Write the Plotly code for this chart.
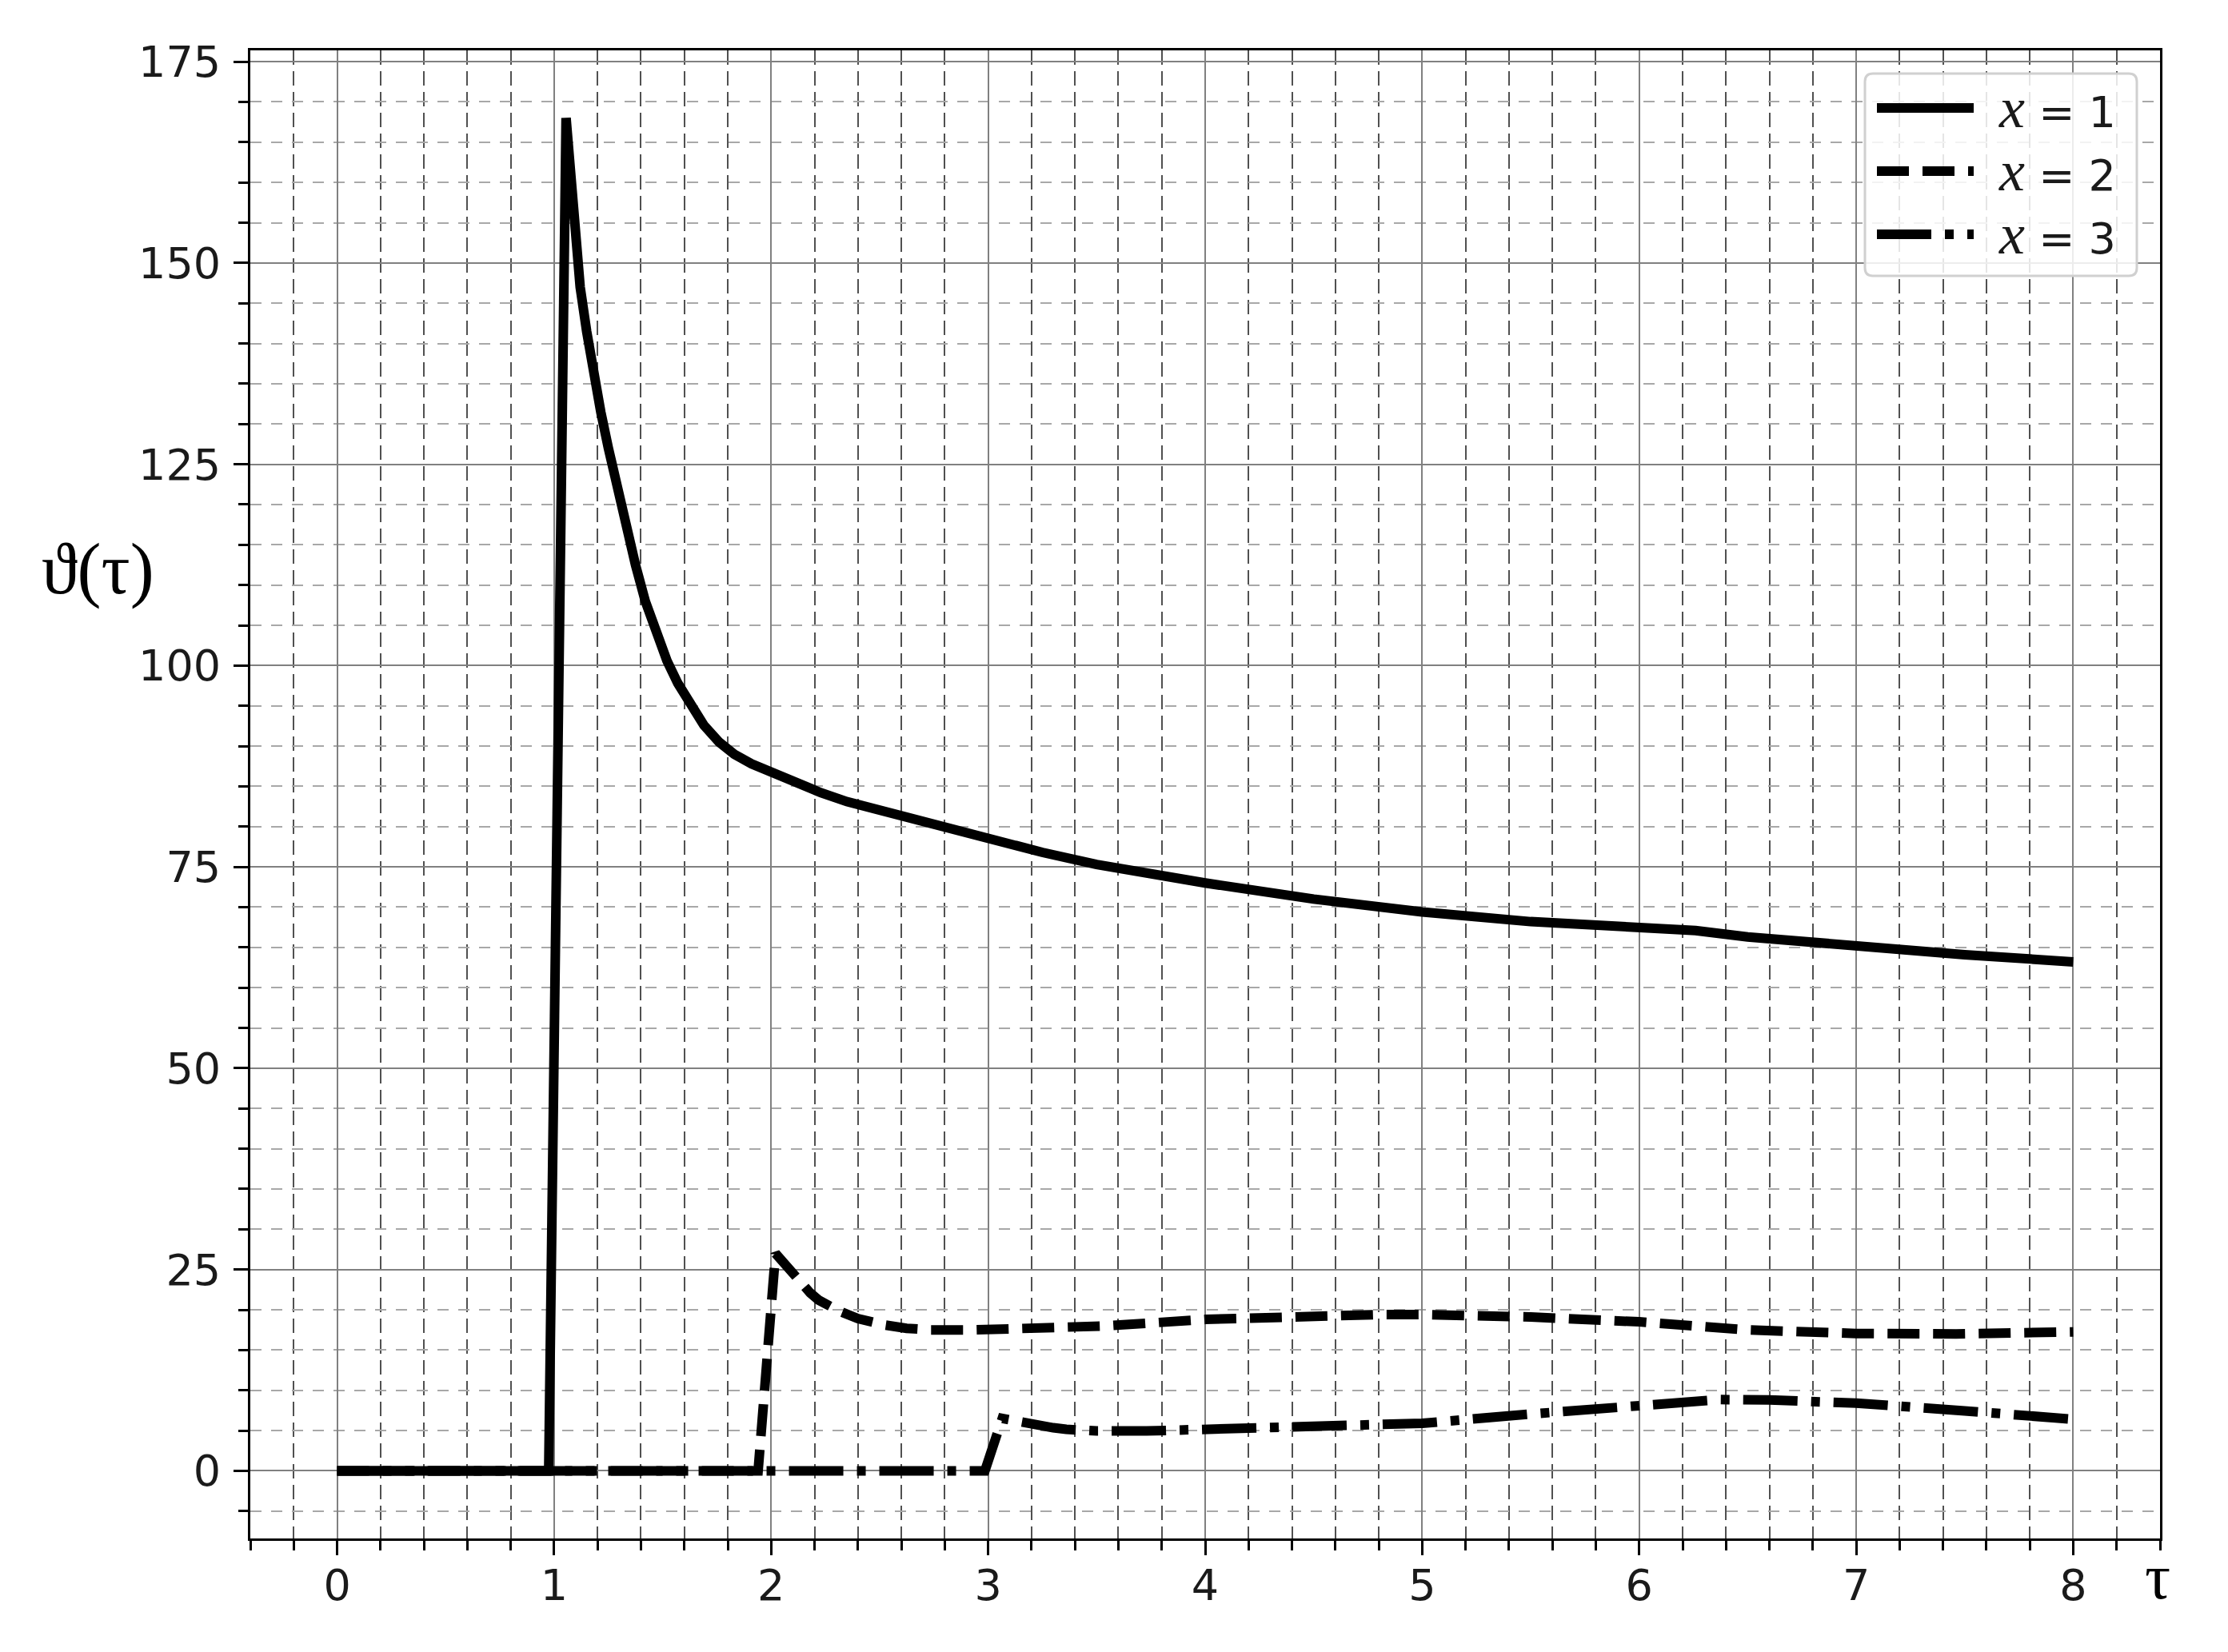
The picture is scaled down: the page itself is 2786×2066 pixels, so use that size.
import plotly.graph_objects as go

# ---------------- data ----------------
tau_x1 = [0, 0.5, 0.975, 1.055, 1.072, 1.095, 1.12, 1.15, 1.18, 1.215, 1.25, 1.29,
          1.33, 1.375, 1.42, 1.47, 1.52, 1.57, 1.63, 1.69, 1.76, 1.83, 1.91, 2.0, 2.1,
          2.23, 2.35, 2.5, 2.75, 3.0, 3.25, 3.5, 3.75, 4.0, 4.5, 5.0, 5.5, 6.0, 6.26,
          6.5, 7.0, 7.5, 8.0]
theta_x1 = [0, 0, 0, 168.0, 162, 154, 147, 141.5, 136.5, 131.5, 127, 122,
            117, 112.5, 108, 104, 100.6, 97.8, 94.9, 92.6, 90.5, 89.0, 87.8, 86.7, 85.5,
            84.2, 83.1, 82.0, 80.3, 78.6, 76.8, 75.3, 74.1, 73.0, 71.0, 69.4, 68.2, 67.5, 67.1,
            66.3, 65.1, 64.1, 63.2]

tau_x2 = [0, 1.94, 2.02, 2.08, 2.133, 2.18, 2.219, 2.27, 2.317, 2.40, 2.47, 2.526,
          2.624, 2.735, 2.94, 3.15, 3.36, 3.545, 4.0, 4.5, 4.79, 5.0, 5.5, 6.0, 6.5,
          7.0, 7.46, 8.0]
theta_x2 = [0, 0, 27.0, 25.0, 23.3, 22.1, 21.2, 20.4, 19.8, 18.9, 18.4, 18.1,
            17.7, 17.5, 17.5, 17.6, 17.75, 18.0, 18.8, 19.3, 19.4, 19.4, 19.1, 18.5, 17.5,
            17.05, 17.0, 17.25]

tau_x3 = [0, 2.985, 3.065, 3.15, 3.24, 3.30, 3.36, 3.43, 3.5, 3.73, 4.0, 4.5, 5.0,
          5.5, 6.0, 6.37, 6.6, 7.0, 7.5, 8.0]
theta_x3 = [0, 0, 6.5, 6.0, 5.6, 5.35, 5.15, 5.02, 4.95, 4.95, 5.1, 5.45, 5.9,
            7.05, 8.2, 8.85, 8.8, 8.4, 7.45, 6.4]

series_labels = ["1", "2", "3"]
x_ticks = [0, 1, 2, 3, 4, 5, 6, 7, 8]
y_ticks = [0, 25, 50, 75, 100, 125, 150, 175]

# ---------------- styling ----------------
OFF = 8                                # browser body margin
W, H = 2786 - 2 * OFF, 2066 - 2 * OFF
L, R, T, B = 313, 2701, 63, 1924      # plot-area edges in window pixels
LW = 12
dash_styles = ["solid", "40px,17px", "68px,17px,11px,17px"]
series = [(tau_x1, theta_x1), (tau_x2, theta_x2), (tau_x3, theta_x3)]

fig = go.Figure()
for (tx, ty), dash, lab in zip(series, dash_styles, series_labels):
    fig.add_trace(go.Scatter(x=tx, y=ty, mode="lines", name=f"x = {lab}",
                             line=dict(color="black", width=LW, dash=dash),
                             showlegend=False))

tick_font = dict(family="DejaVu Sans", size=54, color="#1a1a1a")

fig.update_xaxes(
    range=[-0.4, 8.4], tickvals=x_ticks, ticktext=[str(v) for v in x_ticks],
    ticks="outside", ticklen=18, tickwidth=3, tickcolor="black",
    showline=True, linecolor="black", linewidth=3, mirror=True,
    showgrid=True, gridcolor="#808080", gridwidth=2, zeroline=False,
    tickfont=tick_font, ticklabelstandoff=-9,
    minor=dict(dtick=0.2, tick0=0, ticks="outside", ticklen=12, tickwidth=2.5,
               tickcolor="black", showgrid=True, gridcolor="#505050", gridwidth=1.5,
               griddash="18px,8px"),
)
fig.update_yaxes(
    range=[-8.4, 176.4], tickvals=y_ticks, ticktext=[str(v) for v in y_ticks],
    ticks="outside", ticklen=18, tickwidth=3, tickcolor="black",
    showline=True, linecolor="black", linewidth=3, mirror=True,
    showgrid=True, gridcolor="#808080", gridwidth=2, zeroline=False,
    tickfont=tick_font, ticklabelstandoff=5,
    minor=dict(dtick=5, tick0=0, ticks="outside", ticklen=12, tickwidth=2.5,
               tickcolor="black", showgrid=True, gridcolor="#a8a8a8", gridwidth=2,
               griddash="14px,12px"),
)

def px_x(X):
    return (X - L) / (R - L)

def px_y(Y):
    return (B - Y) / (B - T)

annotations = [
    dict(text="ϑ(τ)", x=px_x(122), y=px_y(712), xref="paper", yref="paper",
         showarrow=False, xanchor="center", yanchor="middle",
         font=dict(family="Liberation Serif, DejaVu Serif", size=90, color="black")),
    dict(text="τ", x=px_x(2698), y=px_y(1972), xref="paper", yref="paper",
         showarrow=False, xanchor="center", yanchor="middle",
         font=dict(family="Liberation Serif, DejaVu Serif", size=80, color="black")),
]

# custom legend (matplotlib-like long handles)
shapes = []
bx0, bx1, by0, by1 = 2332, 2672, 92, 345
r = 10
rx, ry = r / (R - L), r / (B - T)
x0, x1, y0, y1 = px_x(bx0), px_x(bx1), px_y(by1), px_y(by0)
path = (f"M{x0+rx},{y1} L{x1-rx},{y1} Q{x1},{y1} {x1},{y1-ry} "
        f"L{x1},{y0+ry} Q{x1},{y0} {x1-rx},{y0} L{x0+rx},{y0} "
        f"Q{x0},{y0} {x0},{y0+ry} L{x0},{y1-ry} Q{x0},{y1} {x0+rx},{y1} Z")
shapes.append(dict(type="path", path=path, xref="paper", yref="paper",
                   fillcolor="rgba(255,255,255,0.85)",
                   line=dict(color="#d0d0d0", width=3), layer="above"))
rows_y = [135, 214, 293]
for ry_px, dash, lab in zip(rows_y, dash_styles, series_labels):
    shapes.append(dict(type="line", xref="paper", yref="paper",
                       x0=px_x(2347), x1=px_x(2468), y0=px_y(ry_px), y1=px_y(ry_px),
                       line=dict(color="black", width=LW, dash=dash), layer="above"))
    annotations.append(dict(
        text=f'<span style="font-family:Liberation Serif;font-size:72px"><i>x</i></span> = {lab}',
        x=px_x(2497), y=px_y(ry_px), xref="paper", yref="paper", showarrow=False,
        xanchor="left", yanchor="middle",
        font=dict(family="DejaVu Sans", size=54, color="#1a1a1a")))

fig.update_layout(
    width=W, height=H,
    margin=dict(l=L - OFF, r=(W + OFF) - R, t=T - OFF, b=(H + OFF) - B),
    paper_bgcolor="white", plot_bgcolor="white",
    shapes=shapes, annotations=annotations,
    showlegend=False,
)

fig.write_html("out.html")
